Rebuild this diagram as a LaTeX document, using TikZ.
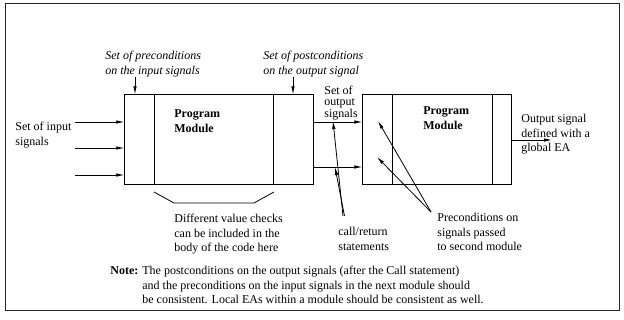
\documentclass[tikz,border=0pt]{standalone}
\usepackage{fontspec}
\setmainfont{Liberation Serif}
\usetikzlibrary{arrows.meta}

\begin{document}
\begin{tikzpicture}[x=1pt, y=-1pt, line width=0.8pt,
    sig/.style={-{Latex[length=8pt,width=3.5pt]}},
    module/.style={draw, minimum height=89.6pt, inner sep=0pt},
    txt/.style={anchor=north west, inner sep=0pt, align=left,
      font=\fontsize{12}{14.5}\selectfont},
    cond/.style={txt, font=\fontsize{12}{14.5}\selectfont\itshape},
  ]
    \useasboundingbox (0,0) rectangle (624,320);
    \draw[line width=1pt, black!85] (5,4) rectangle (619,311);

    % the two program modules
    \node[module, minimum width=188.6pt] (mod1) at (219,139.5) {};
    \node[module, minimum width=148.6pt] (mod2) at (437,139.5) {};
    \draw ([xshift=29.6pt]mod1.north west) -- ([xshift=29.6pt]mod1.south west);
    \draw ([xshift=-40pt]mod1.north east) -- ([xshift=-40pt]mod1.south east);
    \draw ([xshift=29.6pt]mod2.north west) -- ([xshift=29.6pt]mod2.south west);
    \draw ([xshift=-19.6pt]mod2.north east) -- ([xshift=-19.6pt]mod2.south east);

    \node[txt, font=\fontsize{12}{15.5}\selectfont\bfseries] (prog1) at (174,109) {Program\\Module};
    \node[txt, font=\fontsize{12}{15.5}\selectfont\bfseries] (prog2) at (423,106) {Program\\Module};

    % input signals
    \node[txt] (insig) at (15,122) {Set of input\\signals};
    \coordinate (in1) at (75,122);
    \coordinate (in2) at (75,148);
    \coordinate (in3) at (75,175);
    \foreach \i in {1,2,3}
      \draw[sig] (in\i) -- (in\i -| mod1.west);

    % pre- and postconditions
    \node[cond] (pre) at (105,51) {Set of preconditions\\on the input signals};
    \node[cond] (post) at (263,51) {Set of postconditions\\on the output signal};
    \draw[sig] ([xshift=30pt]pre.south west) -- ([xshift=30pt]pre.south west |- mod1.north);
    \draw[sig] ([xshift=30pt]post.south west) -- ([xshift=30pt]post.south west |- mod1.north);

    % output signals of the first module
    \node[txt, font=\fontsize{12}{10.5}\selectfont] (outsig) at (324,86) {Set of\\output\\signals};
    \coordinate (out1) at (313.3,122);
    \coordinate (out2) at (313.3,167);
    \draw[sig] (out1) -- (out1 -| mod2.west);
    \draw[sig] (out2) -- (out2 -| mod2.west);

    % output of the second module
    \node[txt] (glob) at (521,114) {Output signal\\defined with a\\global EA};
    \coordinate (fin) at (552,140);
    \draw[sig] (fin -| mod2.east) -- (fin);

    % value checks in the body
    \draw (154,192) -- (174,203) -- (254,203) -- (274,192);
    \node[txt] (checks) at (174,214) {Different value checks\\can be included in the\\body of the code here};

    % call/return statements
    \node[txt] (callret) at (338,227) {call/return\\statements};
    \coordinate (cr) at (343,216);
    \draw[sig] (cr) -- (333,121);
    \draw[sig] ([xshift=1.5pt]cr) -- (335,167);

    % preconditions of the second module
    \node[txt] (precond) at (437,213) {Preconditions on\\signals passed\\to second module};
    \coordinate (pc) at (431,212);
    \draw[sig] (pc) -- (378,121);
    \draw[sig] (pc) -- (377,157);

    \node[txt] (note) at (110,264) {\begin{tabular}{@{}l@{ }l@{}}
      \textbf{Note:} & The postconditions on the output signals (after the Call statement)\\
      & and the preconditions on the input signals in the next module should\\
      & be consistent. Local EAs within a module should be consistent as well.
    \end{tabular}};
\end{tikzpicture}
\end{document}
